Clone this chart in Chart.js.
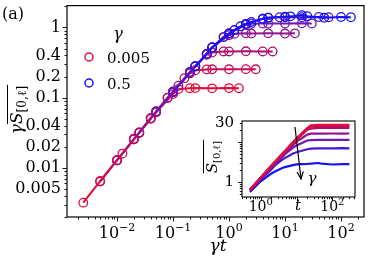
<!DOCTYPE html>
<html><head><meta charset="utf-8">
<script src="https://cdn.jsdelivr.net/npm/chart.js@4.4.0/dist/chart.umd.min.js"></script>
<style>
html,body{margin:0;padding:0;background:#fff;}
#wrap{position:relative;width:373px;height:261px;background:#fff;}
#main{position:absolute;left:0;top:0;}
#inset{position:absolute;left:200px;top:110px;}
</style></head><body>
<div id="wrap"><canvas id="main" width="373" height="261"></canvas><canvas id="inset" width="173" height="115"></canvas></div>
<script>
// ---- data ----
const gammaValues = [0.005, 0.01, 0.02, 0.05, 0.1, 0.2, 0.5];
const timeValues  = [0.5, 1, 2, 2.5, 4, 5, 8, 10, 20, 25, 40, 50, 100, 200, 300];
const S_gamma0005 = [0.64, 1.3, 2.6, 3.2, 5.1, 6.3, 10.0, 12.4, 22.5, 26.5, 27.3, 27.4, 27.2, 27.4, 27.3];
const S_gamma001  = [0.64, 1.28, 2.6, 3.2, 5.1, 6.3, 9.9, 12.3, 22.2, 24.6, 25.3, 25.4, 25.4, 25.5, 25.4];
const S_gamma002  = [0.64, 1.28, 2.55, 3.2, 5.0, 6.1, 9.5, 11.6, 20.5, 22.0, 22.8, 22.8, 22.9, 22.8, 22.8];
const S_gamma005  = [0.64, 1.26, 2.4, 2.96, 4.6, 5.6, 8.4, 10.4, 15.5, 16.3, 16.5, 16.4, 16.5, 16.4, 16.5];
const S_gamma01   = [0.63, 1.2, 2.3, 2.8, 4.2, 5.2, 7.3, 8.2, 11.0, 11.3, 11.4, 11.4, 11.4, 11.5, 11.4];
const S_gamma02   = [0.6, 1.15, 2.1, 2.6, 3.65, 4.1, 5.2, 5.6, 6.65, 6.9, 7.0, 7.0, 7.0, 7.05, 7.0];
const S_gamma05   = [0.56, 1.04, 1.64, 1.84, 2.24, 2.4, 2.66, 2.76, 2.84, 2.88, 3.0, 2.9, 2.75, 2.82, 2.8];
const seriesS = [S_gamma0005, S_gamma001, S_gamma002, S_gamma005, S_gamma01, S_gamma02, S_gamma05];
const legendLabels = ['0.005', '0.5'];
const yTickLabels = ['1', '0.4', '0.2', '0.1', '0.04', '0.02', '0.01', '0.005'];
const xTickExponents = ['\u22122', '\u22121', '0', '1', '2'];
const insetYTickLabels = ['30', '1'];
const insetXTickExponents = ['0', '2'];

// ---- styles ----
const palette = ['rgb(228,12,58)', 'rgb(205,10,85)', 'rgb(175,12,112)', 'rgb(145,18,145)',
                 'rgb(112,24,178)', 'rgb(72,22,212)', 'rgb(22,18,245)'];
const SERIF = '"DejaVu Serif", serif';

function drawSup(ctx, x, yBase, base, exp, fb, fe, rise) {
  ctx.font = fb; const wb = ctx.measureText(base).width;
  ctx.font = fe; const we = ctx.measureText(exp).width;
  const x0 = x - (wb + we) / 2;
  ctx.textAlign = 'left'; ctx.textBaseline = 'alphabetic';
  ctx.font = fb; ctx.fillText(base, x0, yBase);
  ctx.font = fe; ctx.fillText(exp, x0 + wb, yBase - rise);
}
function logTicks(min, max) {
  const out = [];
  for (let n = Math.floor(Math.log10(min)) - 1; n <= Math.ceil(Math.log10(max)); n++) {
    for (let k = 1; k <= 9; k++) {
      const v = k * Math.pow(10, n);
      if (v >= min * 0.9999 && v <= max * 1.0001) out.push({ v, major: k === 1 });
    }
  }
  return out;
}
function noPad(s) { s.paddingTop = 0; s.paddingBottom = 0; s.paddingLeft = 0; s.paddingRight = 0; }

// ---- main chart ----
const mainDecor = {
  id: 'mainDecor',
  afterDraw(chart) {
    const { ctx, chartArea: a, scales } = chart;
    ctx.save();
    ctx.strokeStyle = '#000'; ctx.fillStyle = '#000'; ctx.lineWidth = 1.2;
    ctx.strokeRect(a.left, a.top, a.right - a.left, a.bottom - a.top);
    ctx.lineWidth = 0.9;
    logTicks(scales.y.min, scales.y.max).forEach(t => {
      const y = Math.round(scales.y.getPixelForValue(t.v)) + 0.5;
      const L = t.major ? 4.5 : 2.5;
      ctx.beginPath(); ctx.moveTo(a.left - L, y); ctx.lineTo(a.left, y); ctx.stroke();
    });
    logTicks(scales.x.min, scales.x.max).forEach(t => {
      const x = Math.round(scales.x.getPixelForValue(t.v)) + 0.5;
      const L = t.major ? 4.5 : 2.5;
      ctx.beginPath(); ctx.moveTo(x, a.bottom); ctx.lineTo(x, a.bottom + L); ctx.stroke();
    });
    xTickExponents.forEach((e, i) => {
      const v = Math.pow(10, i - 2);
      drawSup(ctx, scales.x.getPixelForValue(v), 238, '10', e, '16px ' + SERIF, '11px ' + SERIF, 7);
    });
    ctx.font = 'italic 17px ' + SERIF; ctx.textAlign = 'center'; ctx.textBaseline = 'alphabetic';
    ctx.fillText('\u03B3t', 218, 251);
    // y title
    ctx.save();
    ctx.translate(22, 110); ctx.rotate(-Math.PI / 2);
    const fI = 'italic 17px ' + SERIF, fS = '12px ' + SERIF;
    ctx.font = fI; const wg = ctx.measureText('\u03B3').width, ws = ctx.measureText('S').width;
    ctx.font = fS; const wsub = ctx.measureText('[0,\u2113]').width;
    const tot = wg + ws + wsub; const u = -tot / 2;
    ctx.textAlign = 'left';
    ctx.font = fI; ctx.fillText('\u03B3', u, 0); ctx.fillText('S', u + wg, 0);
    ctx.font = fS; ctx.fillText('[0,\u2113]', u + wg + ws, 4);
    ctx.lineWidth = 1;
    ctx.beginPath(); ctx.moveTo(u + wg, -14.5); ctx.lineTo(u + tot + 1, -14.5); ctx.stroke();
    ctx.restore();
    ctx.font = '16px ' + SERIF; ctx.textAlign = 'left';
    ctx.fillText('(a)', 2, 19);
    // legend
    ctx.font = 'italic 16px ' + SERIF; ctx.textAlign = 'center';
    ctx.fillText('\u03B3', 118, 39);
    [[palette[0], 57, legendLabels[0]], [palette[6], 83, legendLabels[1]]].forEach(([c, y, lbl]) => {
      ctx.strokeStyle = c; ctx.lineWidth = 1.5;
      ctx.beginPath(); ctx.arc(89, y, 4, 0, Math.PI * 2); ctx.stroke();
      ctx.fillStyle = '#000'; ctx.font = '15px ' + SERIF; ctx.textAlign = 'left';
      ctx.fillText(lbl, 107, y + 6);
    });
    ctx.restore();
  }
};

const mainDatasets = gammaValues.map((g, i) => ({
  label: String(g),
  data: timeValues.map((t, j) => ({ x: g * t, y: g * seriesS[i][j] })),
  showLine: true,
  borderColor: palette[i],
  backgroundColor: 'rgba(0,0,0,0)',
  borderWidth: 2,
  pointRadius: 4.3,
  pointBorderWidth: 1.3,
  pointBackgroundColor: 'rgba(0,0,0,0)',
  pointBorderColor: palette[i],
  tension: 0
})).reverse();

new Chart(document.getElementById('main'), {
  type: 'scatter',
  data: { datasets: mainDatasets },
  options: {
    responsive: false, animation: false, devicePixelRatio: 1,
    layout: { padding: { top: 5, right: 9, left: 0, bottom: 0 } },
    plugins: { legend: { display: false }, tooltip: { enabled: false } },
    scales: {
      x: {
        type: 'logarithmic', min: 0.00128, max: 257,
        grid: { display: false, drawTicks: false }, border: { display: false },
        ticks: { display: false },
        afterFit(s) { s.height = 44; noPad(s); }
      },
      y: {
        type: 'logarithmic', min: 0.002, max: 2.05,
        grid: { display: false, drawTicks: false }, border: { display: false },
        afterBuildTicks(s) { s.ticks = yTickLabels.map(l => ({ value: parseFloat(l) })); },
        ticks: {
          autoSkip: false, padding: 6, color: '#000',
          font: { family: 'DejaVu Serif', size: 16 },
          callback: (v, i) => yTickLabels[i]
        },
        afterFit(s) { s.width = 67; noPad(s); }
      }
    }
  },
  plugins: [mainDecor]
});

// ---- inset chart ----
const insetDecor = {
  id: 'insetDecor',
  beforeDraw(chart) {
    const { ctx, chartArea: a } = chart;
    ctx.save(); ctx.fillStyle = '#fff';
    ctx.fillRect(a.left, a.top, a.right - a.left, a.bottom - a.top);
    ctx.restore();
  },
  afterDraw(chart) {
    const { ctx, chartArea: a, scales } = chart;
    ctx.save();
    ctx.strokeStyle = '#000'; ctx.fillStyle = '#000'; ctx.lineWidth = 1.1;
    ctx.strokeRect(a.left, a.top, a.right - a.left, a.bottom - a.top);
    ctx.lineWidth = 0.9;
    logTicks(scales.y.min, scales.y.max).forEach(t => {
      const y = Math.round(scales.y.getPixelForValue(t.v)) + 0.5;
      const L = t.major ? 4 : 2.2;
      ctx.beginPath(); ctx.moveTo(a.left - L, y); ctx.lineTo(a.left, y); ctx.stroke();
    });
    logTicks(scales.x.min, scales.x.max).forEach(t => {
      const x = Math.round(scales.x.getPixelForValue(t.v)) + 0.5;
      const L = t.major ? 4 : 2.2;
      ctx.beginPath(); ctx.moveTo(x, a.bottom); ctx.lineTo(x, a.bottom + L); ctx.stroke();
    });
    insetXTickExponents.forEach(e => {
      const v = Math.pow(10, parseInt(e, 10));
      drawSup(ctx, scales.x.getPixelForValue(v), 101, '10', e, '14px ' + SERIF, '10px ' + SERIF, 6);
    });
    ctx.font = 'italic 15px ' + SERIF; ctx.textAlign = 'center';
    ctx.fillText('t', 98, 100);
    ctx.save();
    ctx.translate(17, 47); ctx.rotate(-Math.PI / 2);
    const fI = 'italic 15px ' + SERIF, fS = '10px ' + SERIF;
    ctx.font = fI; const ws = ctx.measureText('S').width;
    ctx.font = fS; const wsub = ctx.measureText('[0,\u2113]').width;
    const tot = ws + wsub; const u = -tot / 2;
    ctx.textAlign = 'left';
    ctx.font = fI; ctx.fillText('S', u, 0);
    ctx.font = fS; ctx.fillText('[0,\u2113]', u + ws, 3);
    ctx.lineWidth = 1;
    ctx.beginPath(); ctx.moveTo(u, -13.5); ctx.lineTo(u + tot + 1, -13.5); ctx.stroke();
    ctx.restore();
    ctx.lineWidth = 1.2;
    const x1 = 95, y1 = 17, x2 = 101, y2 = 69;
    ctx.beginPath(); ctx.moveTo(x1, y1); ctx.lineTo(x2, y2); ctx.stroke();
    const ang = Math.atan2(y2 - y1, x2 - x1);
    ctx.beginPath();
    ctx.moveTo(x2 - 8 * Math.cos(ang - 0.4), y2 - 8 * Math.sin(ang - 0.4));
    ctx.lineTo(x2, y2);
    ctx.lineTo(x2 - 8 * Math.cos(ang + 0.4), y2 - 8 * Math.sin(ang + 0.4));
    ctx.stroke();
    ctx.font = 'italic 15px ' + SERIF; ctx.textAlign = 'center'; ctx.textBaseline = 'alphabetic';
    ctx.fillText('\u03B3', 112, 73);
    ctx.restore();
  }
};

const insetDatasets = gammaValues.map((g, i) => ({
  label: String(g),
  data: timeValues.map((t, j) => ({ x: t, y: seriesS[i][j] })),
  showLine: true,
  borderColor: palette[i],
  borderWidth: 2.2,
  pointRadius: 0,
  tension: 0
}));

new Chart(document.getElementById('inset'), {
  type: 'scatter',
  data: { datasets: insetDatasets },
  options: {
    responsive: false, animation: false, devicePixelRatio: 1,
    layout: { padding: { top: 11, right: 18, left: 0, bottom: 0 } },
    plugins: { legend: { display: false }, tooltip: { enabled: false } },
    scales: {
      x: {
        type: 'logarithmic', min: 0.34, max: 430,
        grid: { display: false, drawTicks: false }, border: { display: false },
        ticks: { display: false },
        afterFit(s) { s.height = 28; noPad(s); }
      },
      y: {
        type: 'logarithmic', min: 0.42, max: 34,
        grid: { display: false, drawTicks: false }, border: { display: false },
        afterBuildTicks(s) { s.ticks = insetYTickLabels.map(l => ({ value: parseFloat(l) })); },
        ticks: {
          autoSkip: false, padding: 8, color: '#000',
          font: { family: 'DejaVu Serif', size: 15 },
          callback: (v, i) => insetYTickLabels[i]
        },
        afterFit(s) { s.width = 42; noPad(s); }
      }
    }
  },
  plugins: [insetDecor]
});
</script>
</body></html>
